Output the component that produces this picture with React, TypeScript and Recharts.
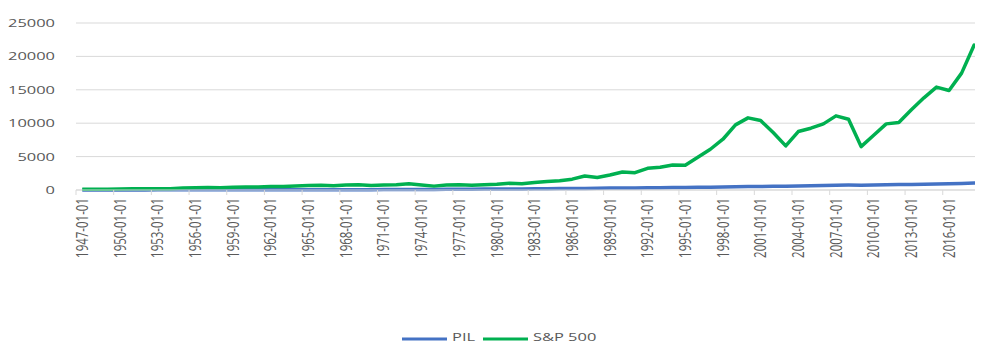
import { LineChart, Line, XAxis, YAxis, CartesianGrid, Legend } from "recharts";

const dates = [
  "1947-01-01", "1948-01-01", "1949-01-01", "1950-01-01", "1951-01-01", "1952-01-01",
  "1953-01-01", "1954-01-01", "1955-01-01", "1956-01-01", "1957-01-01", "1958-01-01",
  "1959-01-01", "1960-01-01", "1961-01-01", "1962-01-01", "1963-01-01", "1964-01-01",
  "1965-01-01", "1966-01-01", "1967-01-01", "1968-01-01", "1969-01-01", "1970-01-01",
  "1971-01-01", "1972-01-01", "1973-01-01", "1974-01-01", "1975-01-01", "1976-01-01",
  "1977-01-01", "1978-01-01", "1979-01-01", "1980-01-01", "1981-01-01", "1982-01-01",
  "1983-01-01", "1984-01-01", "1985-01-01", "1986-01-01", "1987-01-01", "1988-01-01",
  "1989-01-01", "1990-01-01", "1991-01-01", "1992-01-01", "1993-01-01", "1994-01-01",
  "1995-01-01", "1996-01-01", "1997-01-01", "1998-01-01", "1999-01-01", "2000-01-01",
  "2001-01-01", "2002-01-01", "2003-01-01", "2004-01-01", "2005-01-01", "2006-01-01",
  "2007-01-01", "2008-01-01", "2009-01-01", "2010-01-01", "2011-01-01", "2012-01-01",
  "2013-01-01", "2014-01-01", "2015-01-01", "2016-01-01", "2017-01-01", "2018-01-01",
  "2019-01-01",
];

const pil = [
  12, 14, 14, 15, 17, 18, 19, 20, 21, 22, 24, 24,
  26, 27, 28, 30, 32, 34, 37, 41, 43, 47, 51, 54,
  58, 64, 71, 77, 84, 94, 104, 118, 132, 143, 160, 167,
  182, 202, 217, 229, 243, 262, 282, 298, 308, 326, 343, 364,
  382, 404, 429, 453, 482, 513, 529, 547, 573, 611, 652, 691,
  723, 736, 722, 750, 777, 810, 839, 876, 912, 937, 977, 1030,
  1070,
];

const sp500 = [
  120, 130, 120, 140, 170, 190, 200, 200, 290, 350, 360, 330,
  430, 450, 450, 540, 510, 590, 670, 720, 620, 750, 800, 660,
  740, 800, 940, 760, 580, 750, 800, 700, 770, 860, 1000, 920,
  1130, 1270, 1400, 1620, 2100, 1880, 2250, 2700, 2600, 3250, 3400, 3750,
  3700, 4900, 6100, 7600, 9750, 10800, 10400, 8600, 6600, 8750, 9250, 9900,
  11100, 10600, 6500, 8200, 9900, 10100, 12000, 13800, 15400, 14900, 17500, 21700,
  20600,
];

const yTicks = [0, 5000, 10000, 15000, 20000, 25000];

const data = dates.map((date, i) => ({ date, pil: pil[i], sp500: sp500[i] }));

const TEXT = "#595959";
const GRID = "#d9d9d9";
const FONT = "'Open Sans', sans-serif";
const BLUE = "#4472C4";
const GREEN = "#00B050";
// labels are drawn wide, like the exported chart
const STRETCH = 1.43;
const HALF_BAND = 6.28;
const PLOT_BOTTOM = 182;

function XTick(props: any) {
  const { x, payload } = props;
  const edge = x - HALF_BAND;
  return (
    <g>
      <line x1={edge} x2={edge} y1={PLOT_BOTTOM} y2={PLOT_BOTTOM + 5} stroke={GRID} />
      <text
        transform={`translate(${x},${PLOT_BOTTOM + 8}) scale(${STRETCH},1) rotate(-90)`}
        textAnchor="end"
        dy={4}
        fontSize={11.5}
        fontFamily={FONT}
        fill={TEXT}
      >
        {payload.value}
      </text>
    </g>
  );
}

function YTick(props: any) {
  const { y, payload } = props;
  return (
    <text
      transform={`translate(47,${y}) scale(${STRETCH},1)`}
      textAnchor="end"
      dy={4}
      fontSize={11.5}
      fontFamily={FONT}
      fill={TEXT}
    >
      {payload.value}
    </text>
  );
}

function LegendBox() {
  const items = [
    { name: "PIL", color: BLUE, x: 394 },
    { name: "S&P 500", color: GREEN, x: 475 },
  ];
  return (
    <svg width={975} height={20}>
      {items.map((it) => (
        <g key={it.name}>
          <line x1={it.x} x2={it.x + 45} y1={11} y2={11} stroke={it.color} strokeWidth={3} />
          <text
            transform={`translate(${it.x + 50},11) scale(${STRETCH},1)`}
            dy={1.5}
            fontSize={11.5}
            fontFamily={FONT}
            fill={TEXT}
          >
            {it.name}
          </text>
        </g>
      ))}
    </svg>
  );
}

export default function App() {
  return (
    <div style={{ width: 975, height: 335, overflow: "hidden" }}>
      <LineChart
        width={990}
        height={335}
        data={data}
        margin={{ top: 15, right: 5, bottom: 5, left: 8 }}
      >
        <CartesianGrid vertical={false} stroke={GRID} />
        <XAxis
          dataKey="date"
          interval={2}
          padding={{ left: HALF_BAND, right: HALF_BAND }}
          height={148}
          stroke={GRID}
          tickLine={false}
          tick={<XTick />}
        />
        <YAxis
          width={60}
          domain={[0, 25000]}
          ticks={yTicks}
          axisLine={false}
          tickLine={false}
          tick={<YTick />}
        />
        <Legend
          verticalAlign="middle"
          wrapperStyle={{ top: 320, left: 0, width: 975, height: 20 }}
          content={<LegendBox />}
        />
        <Line
          dataKey="pil"
          name="PIL"
          stroke={BLUE}
          strokeWidth={3.5}
          strokeLinejoin="round"
          dot={false}
          activeDot={false}
          isAnimationActive={false}
        />
        <Line
          dataKey="sp500"
          name="S&P 500"
          stroke={GREEN}
          strokeWidth={3.5}
          strokeLinejoin="round"
          dot={false}
          activeDot={false}
          isAnimationActive={false}
        />
      </LineChart>
    </div>
  );
}
